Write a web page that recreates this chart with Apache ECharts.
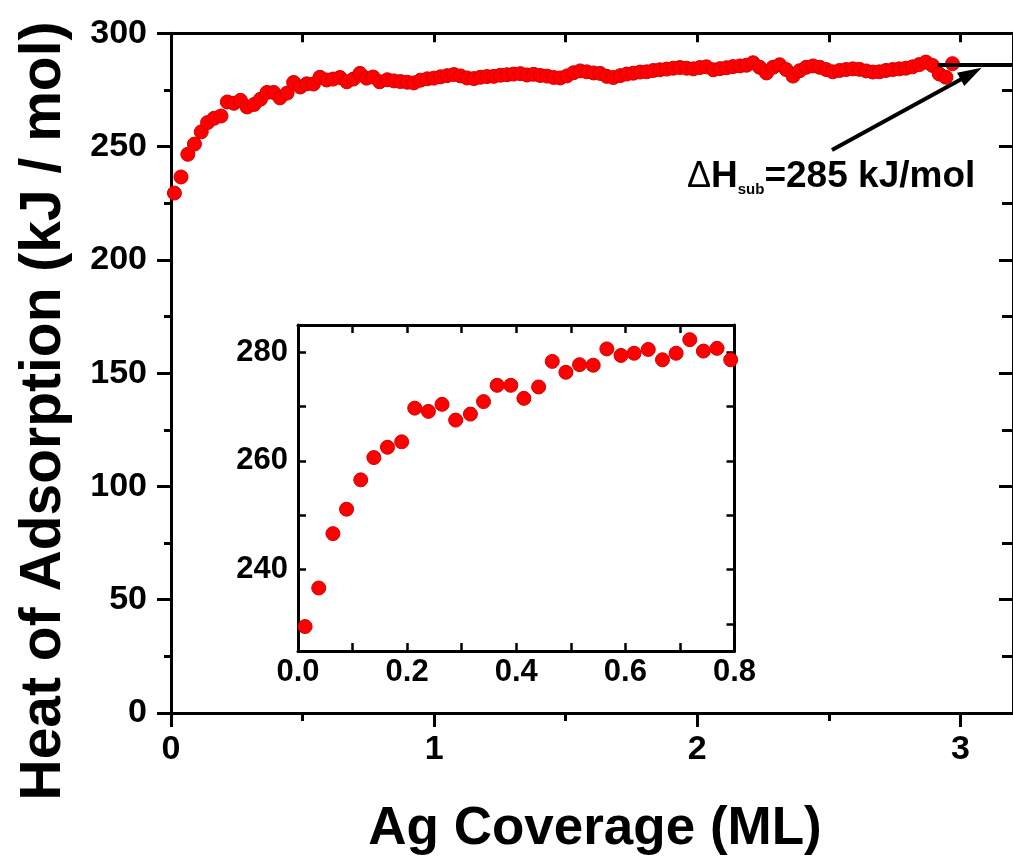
<!DOCTYPE html>
<html>
<head>
<meta charset="utf-8">
<script src="https://cdn.jsdelivr.net/npm/echarts@6/dist/echarts.min.js"></script>
<style>
html,body{margin:0;padding:0;background:#fff;}
#c{width:1013px;height:856px;}
</style>
</head>
<body>
<div id="c"></div>
<script>
// Ag coverage (ML)
var coverage = [
0.013,0.038,0.064,0.089,0.115,0.139,0.164,0.190,0.214,0.239,0.264,0.289,0.316,0.340,0.365,0.390,
0.414,0.441,0.466,0.491,0.516,0.541,0.566,0.592,0.616,0.642,0.668,0.693,0.718,0.743,0.768,0.793,
0.822,0.847,0.872,0.898,0.923,0.948,0.974,0.999,1.024,1.049,1.075,1.100,1.125,1.151,1.176,1.201,
1.227,1.252,1.277,1.302,1.328,1.353,1.378,1.403,1.429,1.454,1.479,1.505,1.530,1.555,1.580,1.606,
1.631,1.656,1.681,1.707,1.732,1.757,1.783,1.808,1.833,1.858,1.884,1.909,1.934,1.960,1.985,2.010,
2.035,2.061,2.086,2.111,2.136,2.162,2.187,2.212,2.237,2.263,2.288,2.313,2.338,2.364,2.389,2.414,
2.440,2.465,2.490,2.515,2.541,2.566,2.591,2.616,2.642,2.667,2.692,2.717,2.743,2.768,2.793,2.818,
2.844,2.869,2.894,2.920,2.945,2.970
];
// Heat of adsorption (kJ/mol)
var heat = [
229.5,236.6,246.6,251.1,256.5,260.6,262.5,263.5,269.7,269.1,270.4,267.5,268.6,270.9,273.9,273.9,
271.5,273.6,278.3,276.3,277.7,277.6,280.6,279.4,279.8,280.5,278.6,279.8,282.3,280.2,280.7,278.6,
279.5,279.0,278.7,278.4,278.1,279.3,279.9,280.2,280.8,281.3,281.8,281.2,280.3,280.0,280.6,280.9,
281.0,281.5,281.7,282.0,282.2,281.6,281.9,281.4,281.1,280.5,280.3,281.2,282.6,283.4,283.0,282.5,
282.3,281.0,280.5,281.3,282.0,282.4,282.9,283.0,283.6,283.9,284.2,284.6,284.9,284.6,284.3,284.9,
285.2,283.9,284.4,284.8,285.3,285.6,285.9,287.0,285.0,282.5,285.0,286.1,284.0,281.1,283.5,285.0,
285.6,285.0,284.0,283.0,283.6,284.0,284.3,284.1,283.4,282.9,283.0,283.6,284.0,284.3,284.6,285.2,
286.2,287.3,285.8,282.0,280.6,286.6
];
var mainXTicks = [0, 1, 2, 3];
var mainXMinor = [0.5, 1.5, 2.5];
var mainXTop = [0.5, 1, 1.5, 2, 2.5, 3];
var insetXLabels = [0.0, 0.2, 0.4, 0.6, 0.8];
var insetYTicks = [230, 240, 250, 260, 270, 280];
var insetYLabels = [240, 260, 280];
var insetMaxX = 0.8;
var dHsub = 286;       // reference line level
var annotText = '=285 kJ/mol';

var FONT = 'Liberation Sans, Arial, sans-serif';
var mainData = coverage.map(function (x, i) { return [x, heat[i]]; });
var insetData = mainData.filter(function (d) { return d[0] <= insetMaxX; });

var black = '#000';
function lbl(size, extra) {
  var o = {color: black, fontFamily: FONT, fontWeight: 'bold', fontSize: size};
  for (var k in extra) o[k] = extra[k];
  return o;
}

var chart = echarts.init(document.getElementById('c'), null, {renderer: 'canvas'});
chart.setOption({
  animation: false,
  backgroundColor: '#fff',
  grid: [
    {left: 171, top: 33.3, right: -8, bottom: 143},
    {left: 298, top: 325, width: 436.5, height: 326}
  ],
  xAxis: [
    {gridIndex: 0, type: 'value', position: 'bottom', min: 0, max: 3.2,
     axisLine: {show: true, onZero: false, lineStyle: {color: black, width: 3}},
     axisTick: {show: true, customValues: mainXTicks, length: 14, lineStyle: {color: black, width: 3}},
     axisLabel: lbl(34, {customValues: mainXTicks, margin: 20}),
     splitLine: {show: false}},
    {gridIndex: 0, type: 'value', position: 'bottom', min: 0, max: 3.2,
     axisLine: {show: false},
     axisTick: {show: true, customValues: mainXMinor, length: 8, lineStyle: {color: black, width: 3}},
     axisLabel: {show: false}, splitLine: {show: false}},
    {gridIndex: 0, type: 'value', position: 'top', min: 0, max: 3.2,
     axisLine: {show: true, onZero: false, lineStyle: {color: black, width: 3}},
     axisTick: {show: true, inside: true, customValues: mainXTop, length: 9, lineStyle: {color: black, width: 3}},
     axisLabel: {show: false}, splitLine: {show: false}},
    {gridIndex: 1, type: 'value', position: 'bottom', min: 0, max: 0.8, interval: 0.1,
     axisLine: {show: true, onZero: false, lineStyle: {color: black, width: 3}},
     axisTick: {show: true, inside: true, length: 8, lineStyle: {color: black, width: 2.5}},
     axisLabel: lbl(31, {customValues: insetXLabels, margin: 6,
        formatter: function (v) { return v.toFixed(1); }}),
     splitLine: {show: false}},
    {gridIndex: 1, type: 'value', position: 'top', min: 0, max: 0.8, interval: 0.1,
     axisLine: {show: true, onZero: false, lineStyle: {color: black, width: 3}},
     axisTick: {show: true, inside: true, length: 8, lineStyle: {color: black, width: 2.5}},
     axisLabel: {show: false}, splitLine: {show: false}}
  ],
  yAxis: [
    {gridIndex: 0, type: 'value', position: 'left', min: 0, max: 300, interval: 50,
     axisLine: {show: true, onZero: false, lineStyle: {color: black, width: 3}},
     axisTick: {show: true, length: 14, lineStyle: {color: black, width: 3}},
     minorTick: {show: true, splitNumber: 2, length: 7, lineStyle: {color: black, width: 3}},
     axisLabel: lbl(34, {margin: 24}),
     splitLine: {show: false}, minorSplitLine: {show: false}},
    {gridIndex: 0, type: 'value', position: 'right', min: 0, max: 300, interval: 50,
     axisLine: {show: true, onZero: false, lineStyle: {color: black, width: 3}},
     axisTick: {show: true, inside: true, length: 14, lineStyle: {color: black, width: 3}},
     minorTick: {show: true, splitNumber: 2, length: 11, lineStyle: {color: black, width: 3}},
     axisLabel: {show: false},
     splitLine: {show: false}, minorSplitLine: {show: false}},
    {gridIndex: 1, type: 'value', position: 'left', min: 225, max: 285,
     axisLine: {show: true, onZero: false, lineStyle: {color: black, width: 3}},
     axisTick: {show: true, inside: true, customValues: insetYTicks, length: 8, lineStyle: {color: black, width: 2.5}},
     axisLabel: lbl(31, {customValues: insetYLabels, margin: 10}),
     splitLine: {show: false}},
    {gridIndex: 1, type: 'value', position: 'right', min: 225, max: 285,
     axisLine: {show: true, onZero: false, lineStyle: {color: black, width: 3}},
     axisTick: {show: true, inside: true, customValues: insetYTicks, length: 8, lineStyle: {color: black, width: 2.5}},
     axisLabel: {show: false},
     splitLine: {show: false}}
  ],
  series: [
    {type: 'scatter', name: 'main', xAxisIndex: 0, yAxisIndex: 0, data: mainData,
     symbol: 'circle', symbolSize: 14, z: 3,
     itemStyle: {color: '#ff0000', borderColor: '#d40000', borderWidth: 1, opacity: 1}},
    {type: 'scatter', name: 'inset', xAxisIndex: 3, yAxisIndex: 2, data: insetData,
     symbol: 'circle', symbolSize: 14, z: 3,
     itemStyle: {color: '#ff0000', borderColor: '#d40000', borderWidth: 1, opacity: 1}},
    {type: 'line', name: 'annot', xAxisIndex: 0, yAxisIndex: 0, data: [], z: 6,
     markLine: {
       silent: true, animation: false,
       symbol: ['none', 'none'],
       label: {show: false},
       lineStyle: {color: black, width: 4, type: 'solid'},
       data: [
         [{coord: [2.914, dHsub]}, {coord: [3.2, dHsub]}],
         [{coord: [2.512, 248.5], symbol: 'none'},
          {coord: [3.041, 282.2], symbol: 'triangle', symbolSize: [15, 24]}]
       ]
     }}
  ],
  graphic: [
    {type: 'text', x: 44, y: 411, rotation: Math.PI / 2,
     style: {text: 'Heat of Adsorption (kJ / mol)', fill: black, font: 'bold 57px ' + FONT,
             align: 'center', verticalAlign: 'middle'}},
    {type: 'text', x: 595, y: 829,
     style: {text: 'Ag Coverage (ML)', fill: black, font: 'bold 53px ' + FONT,
             align: 'center', verticalAlign: 'middle'}},
    {type: 'text', x: 687, y: 177,
     style: {text: '{d|Δ}{a|H}{s|sub}{a|' + annotText + '}', fill: black, align: 'left', verticalAlign: 'middle',
             rich: {
               d: {fontFamily: FONT, fontWeight: 'normal', fontSize: 36, lineHeight: 40, fill: black},
               a: {fontFamily: FONT, fontWeight: 'bold', fontSize: 37, lineHeight: 40, fill: black},
               s: {fontFamily: FONT, fontWeight: 'bold', fontSize: 15, lineHeight: 16, verticalAlign: 'bottom', fill: black}
             }}}
  ]
});
</script>
</body>
</html>
